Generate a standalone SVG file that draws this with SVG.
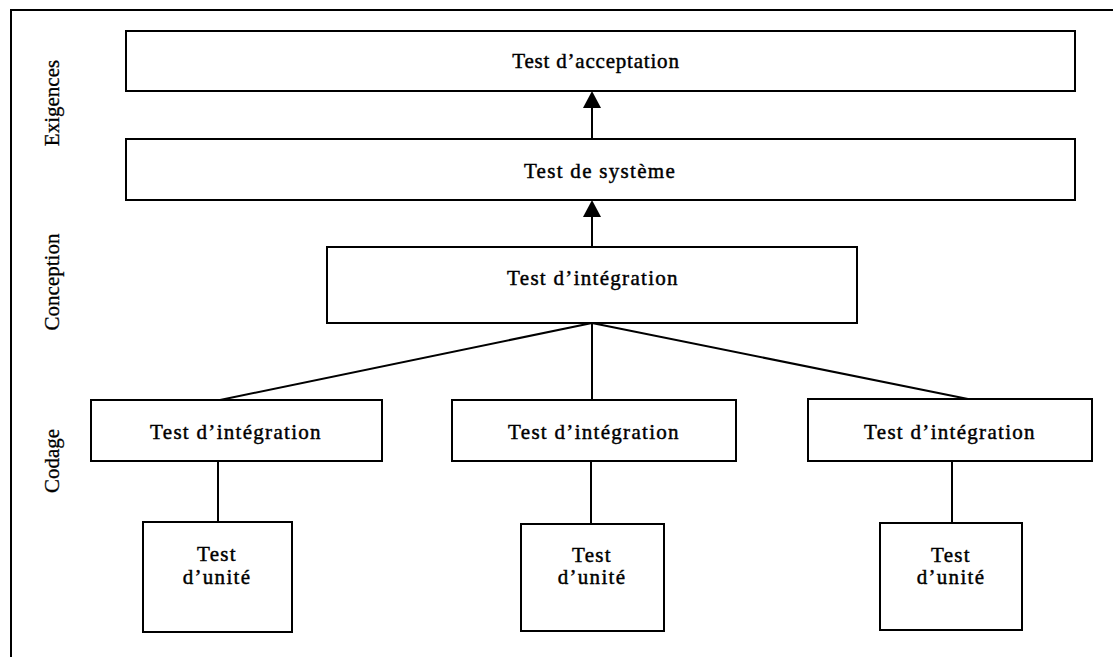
<svg xmlns="http://www.w3.org/2000/svg" width="1113" height="667" viewBox="0 0 1113 667">
<style>
.box{fill:#fff;stroke:#000;stroke-width:2}
.frame{fill:none;stroke:#000;stroke-width:2}
.t{font-family:"Liberation Serif","Times New Roman",serif;font-size:21px;letter-spacing:1.3px;text-anchor:middle;fill:#000;stroke:#000;stroke-width:0.45}
.side{font-family:"Liberation Serif","Times New Roman",serif;font-size:21px;text-anchor:middle;fill:#000;stroke:#000;stroke-width:0.3}
.c{stroke:#000;stroke-width:2;fill:none}
.head{fill:#000;stroke:none}
</style>
<path class="frame" d="M11,657 L11,10 L1113,10"/>
<g id="labels">
<text class="side" transform="translate(59,103) rotate(-90)">Exigences</text>
<text class="side" transform="translate(59,282) rotate(-90)">Conception</text>
<text class="side" transform="translate(59,461) rotate(-90)">Codage</text>
</g>
<g id="connectors">
<line class="c" x1="592" y1="139" x2="592" y2="105"/>
<polygon class="head" points="592,91 583,108 601,108"/>
<line class="c" x1="592" y1="247" x2="592" y2="214"/>
<polygon class="head" points="592,200 583,217 601,217"/>
<line class="c" x1="592" y1="323" x2="220" y2="400"/>
<line class="c" x1="592" y1="323" x2="592" y2="400"/>
<line class="c" x1="592" y1="323" x2="968" y2="399"/>
<line class="c" x1="218" y1="461" x2="218" y2="523"/>
<line class="c" x1="591" y1="461" x2="591" y2="524"/>
<line class="c" x1="952" y1="461" x2="952" y2="523"/>
</g>
<g id="acceptation">
<rect class="box" x="126" y="31" width="949" height="60"/>
<text class="t" x="596" y="68" style="letter-spacing:0.8px">Test d’acceptation</text>
</g>
<g id="systeme">
<rect class="box" x="126" y="139" width="949" height="61"/>
<text class="t" x="600" y="178">Test de système</text>
</g>
<g id="integration-main">
<rect class="box" x="327" y="247" width="530" height="76"/>
<text class="t" x="593" y="285">Test d’intégration</text>
</g>
<g id="integration-1">
<rect class="box" x="91" y="400" width="291" height="61"/>
<text class="t" x="236" y="439">Test d’intégration</text>
</g>
<g id="integration-2">
<rect class="box" x="452" y="400" width="284" height="61"/>
<text class="t" x="594" y="439">Test d’intégration</text>
</g>
<g id="integration-3">
<rect class="box" x="808" y="399" width="284" height="62"/>
<text class="t" x="950" y="439">Test d’intégration</text>
</g>
<g id="unite-1">
<rect class="box" x="143" y="522" width="149" height="110"/>
<text class="t" x="217" y="561">Test</text>
<text class="t" x="217" y="584">d’unité</text>
</g>
<g id="unite-2">
<rect class="box" x="521" y="524" width="143" height="107"/>
<text class="t" x="592" y="562">Test</text>
<text class="t" x="592" y="584">d’unité</text>
</g>
<g id="unite-3">
<rect class="box" x="880" y="523" width="142" height="107"/>
<text class="t" x="951" y="562">Test</text>
<text class="t" x="951" y="584">d’unité</text>
</g>
</svg>
